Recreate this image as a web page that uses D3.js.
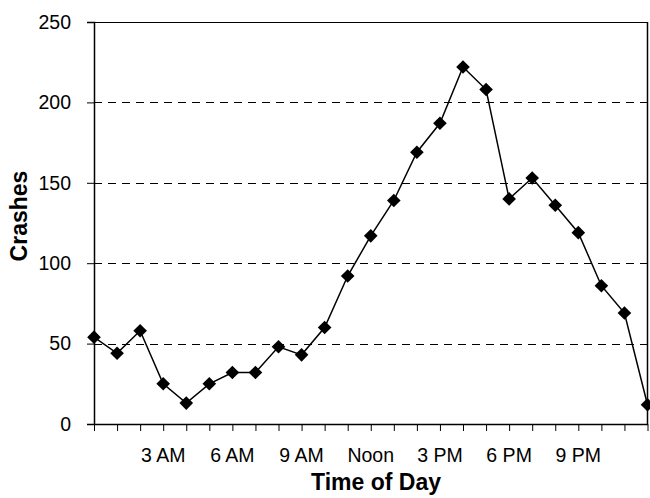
<!DOCTYPE html>
<html>
<head>
<meta charset="utf-8">
<script src="https://cdn.jsdelivr.net/npm/d3@7"></script>
<style>
  html, body { margin: 0; padding: 0; background: #fff; }
  svg { display: block; font-family: "Liberation Sans", Arial, sans-serif; }
</style>
</head>
<body>
<svg id="chart" width="650" height="498"></svg>
<script>
// ---- data ----
const hours = [0,1,2,3,4,5,6,7,8,9,10,11,12,13,14,15,16,17,18,19,20,21,22,23,24];
const crashes = [54,44,58,25,13,25,32,32,48,43,60,92,117,139,169,187,222,208,140,153,136,119,86,69,12];
const xLabelHours = [3,6,9,12,15,18,21];
const xLabels = ["3 AM","6 AM","9 AM","Noon","3 PM","6 PM","9 PM"];
const yTicks = [0,50,100,150,200,250];
const gridValues = [50,100,150,200];

// ---- layout ----
const plotLeft = 94, plotRight = 647.5, plotTop = 22, plotBottom = 424;
const svg = d3.select("#chart");
const x = d3.scaleLinear().domain([0, 24]).range([plotLeft, plotRight]);
const y = d3.scaleLinear().domain([0, 250]).range([plotBottom, plotTop]);

// gridlines
svg.append("g").selectAll("line").data(gridValues).join("line")
  .attr("x1", plotLeft).attr("x2", plotRight)
  .attr("y1", d => Math.round(y(d)) + 0.5).attr("y2", d => Math.round(y(d)) + 0.5)
  .attr("stroke", "#000").attr("stroke-width", 1)
  .attr("stroke-dasharray", "8,6");

// frame (top and right)
svg.append("line").attr("x1", plotLeft).attr("x2", plotRight).attr("y1", plotTop + 0.5).attr("y2", plotTop + 0.5)
  .attr("stroke", "#000").attr("stroke-width", 1.2);
svg.append("line").attr("x1", plotRight).attr("x2", plotRight).attr("y1", plotTop).attr("y2", plotBottom)
  .attr("stroke", "#000").attr("stroke-width", 1.5);

// y axis
const yAxis = svg.append("g").attr("transform", `translate(${plotLeft},0)`)
  .call(d3.axisLeft(y).tickValues(yTicks).tickSize(7).tickPadding(16).tickFormat(d3.format("d")));
yAxis.select(".domain").attr("stroke", "#000").attr("stroke-width", 1.5);
yAxis.selectAll(".tick line").attr("stroke", "#000").attr("stroke-width", 1);
yAxis.selectAll(".tick text").attr("font-size", 19.5).attr("fill", "#000")
  .attr("font-family", "'Liberation Sans', Arial, sans-serif");

// x axis (ticks every hour)
const xAxis = svg.append("g").attr("transform", `translate(0,${plotBottom})`)
  .call(d3.axisBottom(x).tickValues(hours).tickSize(7).tickSizeOuter(0).tickFormat(""));
xAxis.select(".domain").attr("stroke", "#000").attr("stroke-width", 1.5);
xAxis.selectAll(".tick line").attr("stroke", "#000").attr("stroke-width", 1);

// x labels
svg.append("g").selectAll("text").data(xLabelHours).join("text")
  .attr("x", d => x(d)).attr("y", 462)
  .attr("text-anchor", "middle").attr("font-size", 19.5).attr("fill", "#000")
  .text((d, i) => xLabels[i]);

// line
const pts = hours.map((h, i) => [h, crashes[i]]);
svg.append("path").datum(pts)
  .attr("fill", "none").attr("stroke", "#000").attr("stroke-width", 1.5)
  .attr("d", d3.line().x(d => x(d[0])).y(d => y(d[1])));

// markers
svg.append("g").selectAll("path").data(pts).join("path")
  .attr("transform", d => `translate(${x(d[0])},${y(d[1])})`)
  .attr("d", "M0,-6.8L6.8,0L0,6.8L-6.8,0Z")
  .attr("fill", "#000");

// axis titles
svg.append("text")
  .attr("transform", `translate(27,216) rotate(-90)`)
  .attr("text-anchor", "middle").attr("font-size", 23).attr("font-weight", "bold")
  .text("Crashes");
svg.append("text")
  .attr("x", 376).attr("y", 490)
  .attr("text-anchor", "middle").attr("font-size", 23).attr("font-weight", "bold")
  .text("Time of Day");
</script>
</body>
</html>
